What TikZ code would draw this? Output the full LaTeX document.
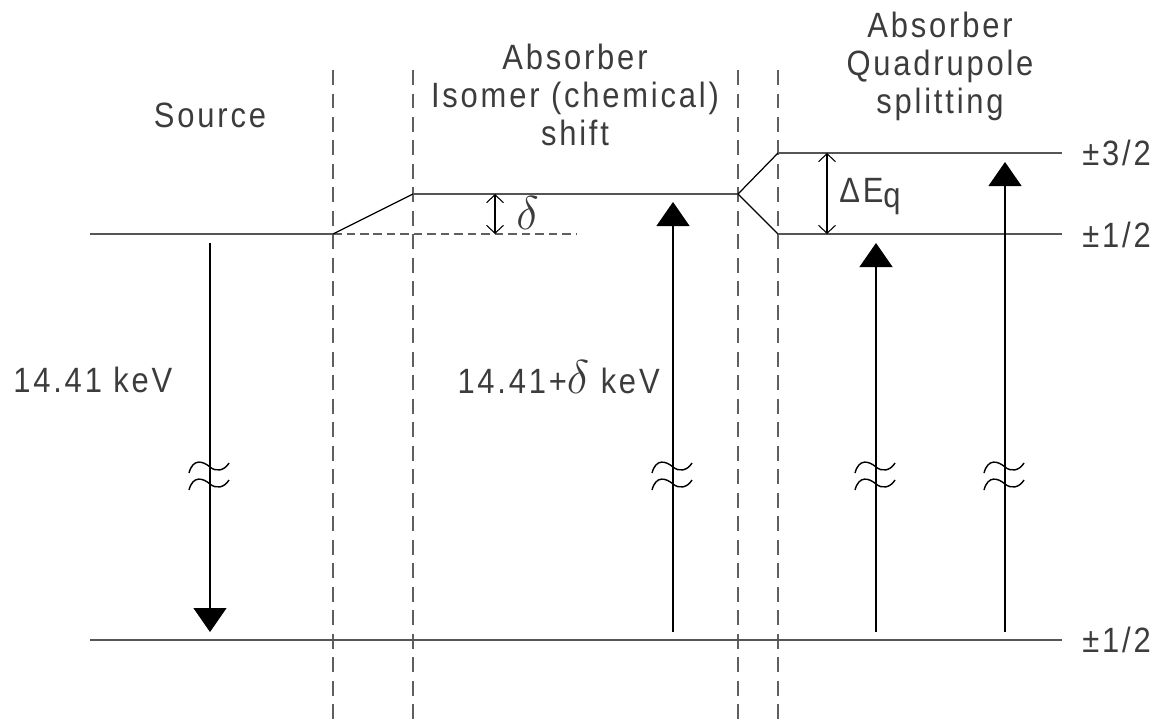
\RequirePackage{fix-cm}
\documentclass[tikz,border=0pt]{standalone}
\usepackage{fontspec}
\setmainfont{Liberation Sans}[FakeStretch=0.88, LetterSpace=8]
\usepackage{tikz}
\usetikzlibrary{arrows.meta, calc}
\definecolor{lvlgray}{RGB}{85,85,85}
\definecolor{sepgray}{RGB}{95,95,95}
\definecolor{txtdark}{RGB}{60,60,60}
\tikzset{
  lbl/.style={font=\fontsize{20}{21.5}\selectfont, color=txtdark, inner sep=0pt},
  level/.style={line width=0.85pt, color=lvlgray},
  slope/.style={line width=0.7pt, color=black},
  sep/.style={line width=0.7pt, color=sepgray, dash pattern=on 0.3cm off 0.17cm},
  refline/.style={line width=0.7pt, color=sepgray, dash pattern=on 0.17cm off 0.1cm},
  gamma/.style={-{Triangle[length=0.48cm, width=0.66cm]}, line width=0.6pt, color=black},
  gap/.style={{Straight Barb[length=0.16cm, width=0.34cm]}-{Straight Barb[length=0.16cm, width=0.34cm]}, line width=0.6pt, color=black},
  wave/.style={line width=0.8pt, color=black}
}
\newcommand{\brkmark}[1]{%
  \draw[wave, shift={(#1)}] (-21,7) .. controls (-17,-8) and (-7,-5) .. (0,1) .. controls (6,6) and (14,5) .. (19,-3);
  \draw[wave, shift={(#1)}] (-21,24) .. controls (-17,9) and (-7,12) .. (0,18) .. controls (6,23) and (14,22) .. (19,14);}

\begin{document}
\begin{tikzpicture}[x=0.02cm, y=-0.02cm]
  \useasboundingbox (0,0) rectangle (1158,724);
  % column separators
  \coordinate (sepAt) at (333,70);  \coordinate (sepAb) at (333,724);
  \coordinate (sepBt) at (413,70);  \coordinate (sepBb) at (413,724);
  \coordinate (sepCt) at (738,70);  \coordinate (sepCb) at (738,724);
  \coordinate (sepDt) at (778,70);  \coordinate (sepDb) at (778,724);
  \draw[sep] (sepAt) -- (sepAb);
  \draw[sep] (sepBt) -- (sepBb);
  \draw[sep] (sepCt) -- (sepCb);
  \draw[sep] (sepDt) -- (sepDb);
  % headings
  \node[lbl, anchor=base] (srcTxt) at (210,127) {Source};
  \node[lbl, align=center, anchor=north] (isoTxt) at (575,44) {Absorber\\Isomer (chemical)\\shift};
  \node[lbl, align=center, anchor=north] (quadTxt) at (940,12) {Absorber\\Quadrupole\\splitting};
  % excited levels
  \coordinate (srcL) at (90,234);   \coordinate (srcR) at (333,234);
  \coordinate (isoL) at (413,194);  \coordinate (isoR) at (738,194);
  \coordinate (refR) at (577,234);
  \coordinate (hiL) at (778,153);   \coordinate (hiR) at (1062,153);
  \coordinate (loL) at (778,234);   \coordinate (loR) at (1062,234);
  \draw[level] (srcL) -- (srcR);
  \draw[refline] (srcR) -- (refR);
  \draw[slope] (srcR) -- (isoL);
  \draw[level] (isoL) -- (isoR);
  \draw[slope] (hiL) -- (isoR) -- (loL);
  \draw[level] (hiL) -- (hiR);
  \draw[level] (loL) -- (loR);
  \node[lbl, anchor=base west] (hiTxt) at (1082,165) {±3/2};
  \node[lbl, anchor=base west] (loTxt) at (1082,247) {±1/2};
  % ground level
  \coordinate (gndL) at (90,640);   \coordinate (gndR) at (1062,640);
  \draw[level] (gndL) -- (gndR);
  \node[lbl, anchor=base west] (gndTxt) at (1082,652) {±1/2};
  % shift and splitting
  \coordinate (dTop) at (495,194);  \coordinate (dBot) at (495,234);
  \draw[gap] (dTop) -- (dBot);
  \node[lbl, anchor=base west] (dTxt) at (516,229) {\fontsize{27}{30}\selectfont$\delta$};
  \coordinate (qTop) at (827,153);  \coordinate (qBot) at (827,234);
  \draw[gap] (qTop) -- (qBot);
  \node[lbl, anchor=base west] (qTxt) at (839,202) {ΔE\raisebox{-3pt}{q}};
  % gamma transitions
  \coordinate (emA) at (210,243);   \coordinate (emB) at (210,632);
  \coordinate (abA) at (673,632);   \coordinate (abB) at (673,202);
  \coordinate (q1A) at (876,632);   \coordinate (q1B) at (876,243);
  \coordinate (q2A) at (1005,632);  \coordinate (q2B) at (1005,162);
  \draw[gamma] (emA) -- (emB);
  \draw[gamma] (abA) -- (abB);
  \draw[gamma] (q1A) -- (q1B);
  \draw[gamma] (q2A) -- (q2B);
  \brkmark{210,466}
  \brkmark{673,466}
  \brkmark{876,466}
  \brkmark{1005,466}
  \node[lbl, anchor=base west] (emTxt) at (13,392) {14.41 keV};
  \node[lbl, anchor=base east] (abTxt) at (660,393) {14.41+{\fontsize{27}{30}\selectfont$\delta$} keV};
\end{tikzpicture}
\end{document}
